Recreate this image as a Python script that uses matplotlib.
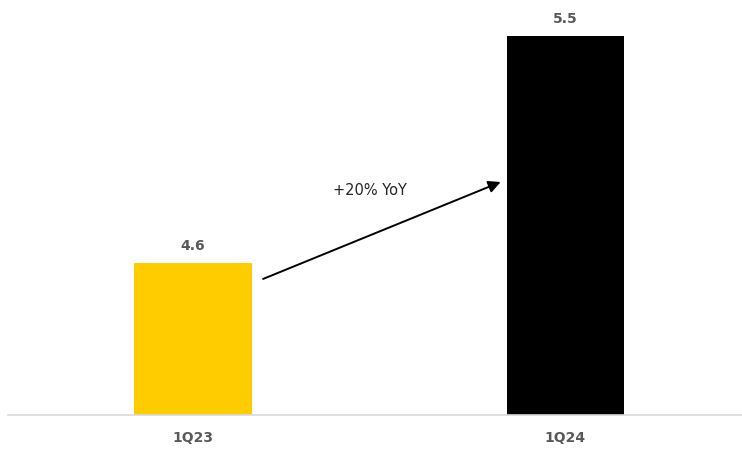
import matplotlib
matplotlib.use("Agg")
import matplotlib.pyplot as plt

# Data
categories = ["1Q23", "1Q24"]
values = [4.6, 5.5]
bar_colors = ["#FFCC00", "#000000"]
growth_label = "+20% YoY"

fig = plt.figure(figsize=(7.42, 4.52), dpi=100)
ax = fig.add_axes([8 / 742, 36.5 / 452, 734 / 742, 415.5 / 452])

x = list(range(len(categories)))
bars = ax.bar(x, values, width=0.315, color=bar_colors, zorder=2)

# value labels above bars
for xi, v in zip(x, values):
    ax.annotate(f"{v:.1f}", xy=(xi, v), xytext=(0, 8), textcoords="offset points",
                ha="center", va="bottom", fontsize=10, fontweight="bold", color="#595959")

# growth arrow between the bars
ax.annotate("", xy=(0.826, 4.921), xytext=(0.188, 4.537),
            arrowprops=dict(arrowstyle="-|>", color="black", lw=1.4, mutation_scale=18,
                            shrinkA=0, shrinkB=0))
ax.text(0.476, 4.89, growth_label, ha="center", va="center", fontsize=10.5, color="#262626")

ax.set_xlim(-0.497, 1.474)
ax.set_ylim(4.0, 5.646)
ax.set_xticks(x)
ax.set_xticklabels(categories, fontsize=10, fontweight="bold", color="#595959")
ax.tick_params(axis="x", length=0, pad=11)
ax.set_yticks([])

for side in ["top", "right", "left"]:
    ax.spines[side].set_visible(False)
ax.spines["bottom"].set_color("#d9d9d9")
ax.spines["bottom"].set_linewidth(1.2)

fig.savefig("out.png", dpi=100)
